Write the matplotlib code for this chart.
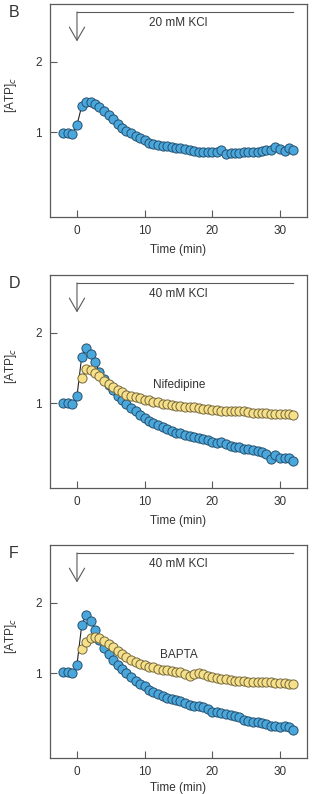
import numpy as np
import matplotlib
matplotlib.use("Agg")
import matplotlib.pyplot as plt

plt.rcParams['font.family'] = ['Liberation Sans', 'DejaVu Sans']

# sampling times (min), shared by all traces
TIME = [-2.0, -1.3, -0.7, 0.0, 0.7, 1.3, 2.0, 2.7, 3.3, 4.0,
        4.7, 5.3, 6.0, 6.7, 7.3, 8.0, 8.7, 9.3, 10.0, 10.7,
        11.3, 12.0, 12.7, 13.3, 14.0, 14.7, 15.3, 16.0, 16.7, 17.3,
        18.0, 18.7, 19.3, 20.0, 20.7, 21.3, 22.0, 22.7, 23.3, 24.0,
        24.7, 25.3, 26.0, 26.7, 27.3, 28.0, 28.7, 29.3, 30.0, 30.7,
        31.3, 32.0]
YELLOW_START = 4  # yellow traces start at t = 0.7

# panel B, 20 mM KCl
B_ctrl = [0.99, 0.99, 0.97, 1.10, 1.37, 1.43, 1.43, 1.40, 1.36, 1.30,
          1.24, 1.18, 1.12, 1.06, 1.02, 0.98, 0.94, 0.91, 0.88, 0.85,
          0.83, 0.81, 0.80, 0.80, 0.78, 0.77, 0.77, 0.76, 0.75, 0.73,
          0.72, 0.72, 0.72, 0.71, 0.72, 0.74, 0.69, 0.70, 0.70, 0.70,
          0.71, 0.72, 0.72, 0.71, 0.73, 0.74, 0.74, 0.78, 0.76, 0.73,
          0.77, 0.74]

# panel D, 40 mM KCl +/- nifedipine
D_ctrl = [1.00, 1.00, 0.99, 1.10, 1.66, 1.79, 1.70, 1.58, 1.44, 1.34,
          1.25, 1.18, 1.10, 1.04, 0.99, 0.93, 0.88, 0.83, 0.78, 0.74,
          0.71, 0.68, 0.66, 0.63, 0.60, 0.58, 0.57, 0.55, 0.53, 0.52,
          0.50, 0.49, 0.47, 0.45, 0.43, 0.44, 0.42, 0.39, 0.38, 0.37,
          0.35, 0.34, 0.33, 0.31, 0.30, 0.27, 0.20, 0.26, 0.22, 0.22,
          0.21, 0.18]
D_drug = [1.35, 1.48, 1.47, 1.43, 1.38, 1.32, 1.27, 1.23, 1.19, 1.15,
          1.12, 1.10, 1.08, 1.07, 1.05, 1.04, 1.02, 1.01, 0.99, 0.98,
          0.97, 0.96, 0.96, 0.95, 0.95, 0.94, 0.93, 0.92, 0.91, 0.90,
          0.90, 0.89, 0.89, 0.88, 0.88, 0.88, 0.88, 0.87, 0.86, 0.86,
          0.86, 0.86, 0.85, 0.85, 0.84, 0.84, 0.84, 0.83]

# panel F, 40 mM KCl +/- BAPTA
F_ctrl = [1.01, 1.02, 1.00, 1.12, 1.68, 1.82, 1.74, 1.62, 1.47, 1.36,
          1.27, 1.19, 1.12, 1.06, 1.00, 0.94, 0.89, 0.85, 0.81, 0.76,
          0.73, 0.70, 0.67, 0.65, 0.63, 0.62, 0.60, 0.58, 0.55, 0.53,
          0.53, 0.51, 0.49, 0.45, 0.44, 0.43, 0.42, 0.40, 0.39, 0.37,
          0.33, 0.32, 0.31, 0.30, 0.29, 0.27, 0.25, 0.24, 0.23, 0.24,
          0.23, 0.19]
F_drug = [1.34, 1.44, 1.50, 1.52, 1.50, 1.46, 1.41, 1.37, 1.32, 1.27,
          1.23, 1.19, 1.16, 1.13, 1.11, 1.09, 1.08, 1.06, 1.05, 1.04,
          1.03, 1.02, 1.01, 0.99, 0.96, 0.98, 1.00, 0.98, 0.96, 0.94,
          0.93, 0.92, 0.91, 0.90, 0.89, 0.89, 0.88, 0.87, 0.87, 0.87,
          0.87, 0.87, 0.87, 0.86, 0.86, 0.86, 0.85, 0.84]

panels = [
    ("B", "20 mM KCl", B_ctrl, None, None),
    ("D", "40 mM KCl", D_ctrl, D_drug, "Nifedipine"),
    ("F", "40 mM KCl", F_ctrl, F_drug, "BAPTA"),
]

BLUE, BLUE_EDGE = "#4aa7dc", "#255070"
YELLOW, YELLOW_EDGE = "#f6e08a", "#75683f"
GREY = "#5a5a5a"
TXT = "#333333"

fig = plt.figure(figsize=(3.12, 7.94), dpi=100)
bottoms = [0.7267, 0.3854, 0.0453]
t = np.array(TIME)

for i, ((letter, kcl, ctrl, drug, dlabel), b) in enumerate(zip(panels, bottoms)):
    ax = fig.add_axes([0.160, b, 0.824, 0.268])
    ax.plot(t, ctrl, "-", color="#222222", lw=0.8, marker="o", ms=6.6,
            mfc=BLUE, mec=BLUE_EDGE, mew=0.7, zorder=3)
    if drug is not None:
        ax.plot(t[YELLOW_START:], drug, "-", color="#222222", lw=0.8,
                marker="o", ms=6.6, mfc=YELLOW, mec=YELLOW_EDGE, mew=0.7,
                zorder=4)
        ax.text(15.1, 1.26, dlabel, fontsize=8.5, color=TXT,
                ha="center", va="center")

    ax.set_xlim(-4, 34)
    ax.set_ylim(-0.21, 2.82)
    ax.set_xticks([0, 10, 20, 30])
    ax.set_yticks([1, 2])
    ax.tick_params(direction="in", length=5, width=0.8, color=GREY,
                   labelsize=8.5, labelcolor=TXT, pad=6)
    for s in ax.spines.values():
        s.set_color(GREY)
        s.set_linewidth(0.9)
    # last panel: keep the label just inside the canvas
    ax.set_xlabel("Time (min)", fontsize=8.5, color=TXT,
                  labelpad=5 if i < 2 else 2.5)
    ax.set_ylabel("[ATP]$_c$", fontsize=8.5, color=TXT)
    ax.yaxis.set_label_coords(-0.122, 0.575)

    # KCl application bracket with open arrow
    ax.plot([0, 32], [2.71, 2.71], color=GREY, lw=0.8)
    ax.annotate("", xy=(0, 2.29), xytext=(0, 2.71),
                arrowprops=dict(arrowstyle="->,head_length=0.95,head_width=0.55",
                                color=GREY, lw=0.8, shrinkA=0, shrinkB=0,
                                mutation_scale=10))
    ax.text(14.9, 2.55, kcl, fontsize=8.5, color=TXT, ha="center", va="center")

    ax.text(-0.16, 0.995, letter, transform=ax.transAxes, fontsize=11.5,
            color=TXT, ha="left", va="top")

fig.savefig("out.png", dpi=100)
